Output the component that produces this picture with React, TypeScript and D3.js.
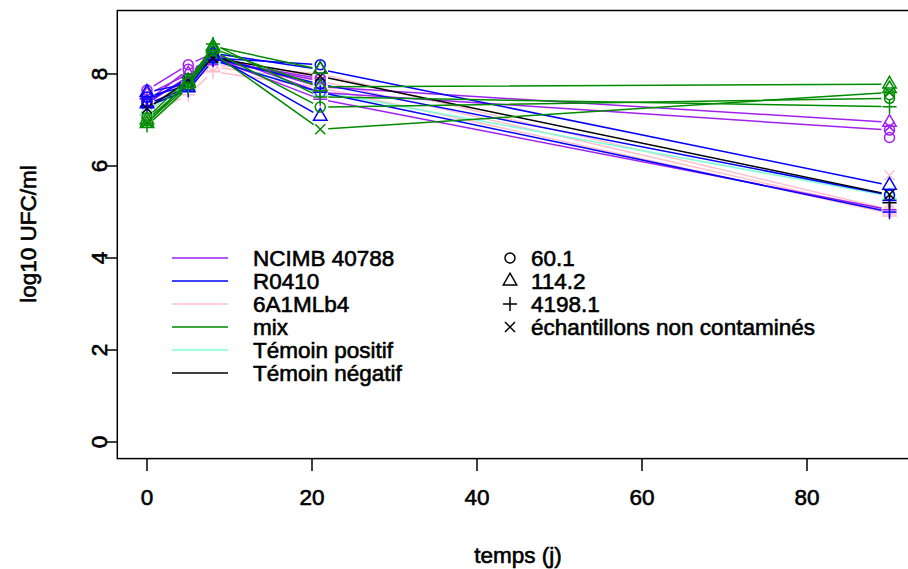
import React from "react";
import * as d3 from "d3";

const days = [0, 5, 8, 21, 90];
const strainNames = ["NCIMB 40788", "R0410", "6A1MLb4", "mix", "Témoin positif", "Témoin négatif"];
const strainColors = ["#A020F0", "#0000FF", "#FFC0CB", "#008B00", "#7FFFD4", "#000000"];
const sampleNames = ["60.1", "114.2", "4198.1", "échantillons non contaminés"];
const xTicks = [0, 20, 40, 60, 80];
const yTicks = [0, 2, 4, 6, 8];

// rows: [sample index, value at day 0, 5, 8, 21, 90] (NaN = missing)
const ncimb = [
  [1, 7.55, 8.0, 8.4, 7.72, 6.95],
  [0, 7.65, 8.2, 8.45, 7.6, 6.78],
  [2, 7.45, 7.85, 8.35, 7.45, 5.05],
  [0, 7.4, 8.1, 8.3, 7.9, NaN],
  [3, 7.35, 7.95, 8.3, 7.85, NaN],
  [0, NaN, NaN, NaN, NaN, 6.62],
  [3, NaN, NaN, NaN, NaN, 6.85],
];
const r0410 = [
  [1, 7.6, 7.8, 8.45, 8.1, 5.58],
  [0, 7.4, 7.9, 8.35, 7.78, 5.37],
  [2, 7.3, 7.65, 8.3, 7.6, 5.0],
  [1, 7.35, 7.7, 8.4, 7.08, NaN],
  [0, 7.5, 7.75, 8.35, 8.2, NaN],
  [2, NaN, NaN, NaN, NaN, 5.25],
];
const lb4 = [
  [0, 7.15, 7.85, 8.2, 8.0, 5.05],
  [1, 7.2, 7.8, 8.15, 7.85, 5.0],
  [2, 7.1, 7.55, 8.05, 7.7, 4.97],
  [3, 7.25, 7.9, 8.25, 7.95, NaN],
  [3, NaN, NaN, NaN, NaN, 5.8],
];
const mix = [
  [1, 7.0, 7.8, 8.55, 7.72, 7.78],
  [2, 6.88, 7.7, 8.65, 7.5, 7.29],
  [0, 7.05, 7.9, 8.5, 7.28, 7.47],
  [3, 6.95, 7.75, 8.45, 6.8, 7.6],
  [1, 6.92, 7.85, 8.6, 8.1, NaN],
  [1, NaN, NaN, NaN, NaN, 7.68],
  [0, NaN, NaN, NaN, NaN, 7.55],
];
const temoinPos = [
  [1, 7.2, 7.8, 8.3, 7.62, 5.35],
];
const temoinNeg = [
  [3, 7.25, 7.85, 8.35, 7.95, 5.38],
  [2, NaN, NaN, NaN, NaN, 5.2],
];

const W = 908;
const H = 569;
const FONT = "'Liberation Sans', Arial, Helvetica, sans-serif";
const FS = 22.5;
const GAP = 8;

function Symbol({ x, y, pch, color }: { x: number; y: number; pch: number; color: string }) {
  const r = 5;
  const sw = 1.5;
  if (pch === 0) return <circle cx={x} cy={y} r={r} fill="none" stroke={color} strokeWidth={sw} />;
  if (pch === 1) {
    const tr = 1.555 * r;
    const hw = tr * Math.sqrt(3) / 2;
    const yc = tr / 2;
    return (
      <polygon
        points={`${x},${y - tr} ${x + hw},${y + yc} ${x - hw},${y + yc}`}
        fill="none"
        stroke={color}
        strokeWidth={sw}
      />
    );
  }
  if (pch === 2) {
    const d = Math.SQRT2 * r;
    return (
      <path d={`M${x - d},${y}H${x + d}M${x},${y - d}V${y + d}`} stroke={color} strokeWidth={sw} fill="none" />
    );
  }
  return (
    <path d={`M${x - r},${y - r}L${x + r},${y + r}M${x - r},${y + r}L${x + r},${y - r}`} stroke={color} strokeWidth={sw} fill="none" />
  );
}

export default function App() {
  const x = d3.scaleLinear().domain([-3.6, 93.6]).range([117.3, 919.2]);
  const y = d3.scaleLinear().domain([-0.36, 9.36]).range([458.6, 11.4]);

  const groups = [
    { strain: 2, rows: lb4 },
    { strain: 4, rows: temoinPos },
    { strain: 0, rows: ncimb },
    { strain: 1, rows: r0410 },
    { strain: 5, rows: temoinNeg },
    { strain: 3, rows: mix },
  ];

  const marks: React.ReactNode[] = [];
  groups.forEach((g, gi) => {
    const color = strainColors[g.strain];
    g.rows.forEach((row, ri) => {
      const pch = row[0];
      const vals = row.slice(1);
      const pts = vals.map((v, i) => (isNaN(v) ? null : [x(days[i]), y(v)] as [number, number]));
      const segs: string[] = [];
      for (let i = 0; i < pts.length - 1; i++) {
        const a = pts[i];
        const b = pts[i + 1];
        if (!a || !b) continue;
        const dx = b[0] - a[0];
        const dy = b[1] - a[1];
        const L = Math.hypot(dx, dy);
        if (L <= 2 * GAP) continue;
        const ux = dx / L;
        const uy = dy / L;
        segs.push(`M${a[0] + ux * GAP},${a[1] + uy * GAP}L${b[0] - ux * GAP},${b[1] - uy * GAP}`);
      }
      marks.push(
        <g key={`s${gi}-${ri}`}>
          <path d={segs.join("")} stroke={color} strokeWidth={1.5} fill="none" />
          {pts.map((p, i) => (p ? <Symbol key={i} x={p[0]} y={p[1]} pch={pch} color={color} /> : null))}
        </g>
      );
    });
  });

  const legRowY = (i: number) => 258 + i * 23;
  const textProps = { fontSize: FS, fill: "#000", stroke: "#000", strokeWidth: 0.6 };

  return (
    <svg width={W} height={H} style={{ position: "absolute", left: 0, top: 0, background: "#fff" }} fontFamily={FONT}>
      <rect x={0} y={0} width={W} height={H} fill="#fff" />
      {marks}
      <rect x={117.3} y={10.5} width={919.2 - 117.3} height={458.6 - 10.5} fill="none" stroke="#000" strokeWidth={1.5} />
      {xTicks.map((t) => (
        <g key={`xt${t}`}>
          <line x1={x(t)} x2={x(t)} y1={458.6} y2={471} stroke="#000" strokeWidth={1.5} />
          <text x={x(t)} y={505} textAnchor="middle" {...textProps}>{t}</text>
        </g>
      ))}
      {yTicks.map((t) => (
        <g key={`yt${t}`}>
          <line x1={117.3} x2={105} y1={y(t)} y2={y(t)} stroke="#000" strokeWidth={1.5} />
          <text transform={`translate(107,${y(t)}) rotate(-90)`} textAnchor="middle" {...textProps}>{t}</text>
        </g>
      ))}
      <text x={518} y={563} textAnchor="middle" {...textProps}>temps (j)</text>
      <text transform={`translate(36,234) rotate(-90)`} textAnchor="middle" {...textProps}>log10 UFC/ml</text>
      {strainNames.map((n, i) => (
        <g key={`l1${i}`}>
          <line x1={172} x2={228} y1={legRowY(i)} y2={legRowY(i)} stroke={strainColors[i]} strokeWidth={1.5} />
          <text x={253} y={legRowY(i) + 8} {...textProps}>{n}</text>
        </g>
      ))}
      {sampleNames.map((n, i) => (
        <g key={`l2${i}`}>
          <Symbol x={510} y={legRowY(i)} pch={i} color="#000" />
          <text x={531} y={legRowY(i) + 8} {...textProps}>{n}</text>
        </g>
      ))}
    </svg>
  );
}
